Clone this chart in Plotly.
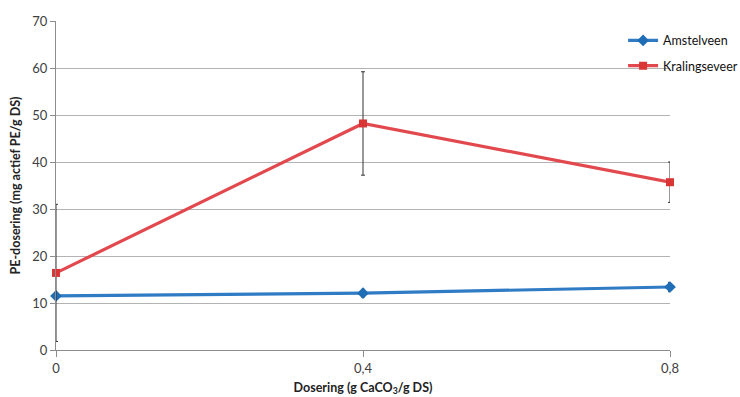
import plotly.graph_objects as go

x_values = [0, 0.4, 0.8]
x_tick_labels = ["0", "0,4", "0,8"]
amstelveen = [11.5, 12.1, 13.4]
amstelveen_err = [0.0, 0.8, 1.0]
kralingseveer = [16.4, 48.2, 35.7]
kralingseveer_err = [14.6, 11.0, 4.3]

FONT = "Lato, 'Open Sans', sans-serif"

fig = go.Figure()
fig.add_trace(go.Scatter(
    x=x_values, y=amstelveen, name="Amstelveen", mode="lines+markers",
    line=dict(color="#2F7BC4", width=3.2),
    marker=dict(symbol="diamond", size=9, color="#1F6DB5"),
    error_y=dict(type="data", array=amstelveen_err, visible=True, color="#333333", thickness=1, width=2),
    cliponaxis=False, legendgroup="a",
))
fig.add_trace(go.Scatter(
    x=x_values, y=kralingseveer, name="Kralingseveer", mode="lines+markers",
    line=dict(color="#E2494E", width=3.2),
    marker=dict(symbol="square", size=8, color="#D93535"),
    error_y=dict(type="data", array=kralingseveer_err, visible=True, color="#333333", thickness=1, width=2),
    cliponaxis=False, legendgroup="b",
))

fig.update_layout(
    width=740, height=397,
    margin=dict(l=56, r=70, t=21, b=47, autoexpand=False),
    paper_bgcolor="white", plot_bgcolor="white",
    font=dict(family=FONT, size=12, color="#404040"),
    showlegend=True,
    legend=dict(xref="container", yref="container", x=0.842, y=0.935,
                xanchor="left", yanchor="top",
                bgcolor="rgba(0,0,0,0)", tracegroupgap=6,
                font=dict(size=12.5, color="#111111"), traceorder="grouped"),
    xaxis=dict(range=[0, 0.8], tickvals=x_values, ticktext=x_tick_labels,
               showgrid=False, zeroline=False, showline=True, linecolor="#8c8c8c", linewidth=1,
               ticks="outside", ticklen=6, tickcolor="#8c8c8c", automargin=False,
               tickfont=dict(size=13, color="#404040"),
               title=dict(text="<b>Dosering (g CaCO<sub>3</sub>/g DS)</b>", font=dict(size=12.5, color="#222222"), standoff=8)),
    yaxis=dict(range=[0, 70], dtick=10, showgrid=True, gridcolor="#b3b3b3", gridwidth=1,
               zeroline=False, showline=True, linecolor="#8c8c8c", linewidth=1,
               ticks="outside", ticklen=5, tickcolor="#8c8c8c", automargin=False,
               tickfont=dict(size=13, color="#404040"),
               title=dict(text="<b>PE-dosering (mg actief PE/g DS)</b>", font=dict(size=12.5, color="#222222"), standoff=8)),
)

fig.write_html("out.html")
